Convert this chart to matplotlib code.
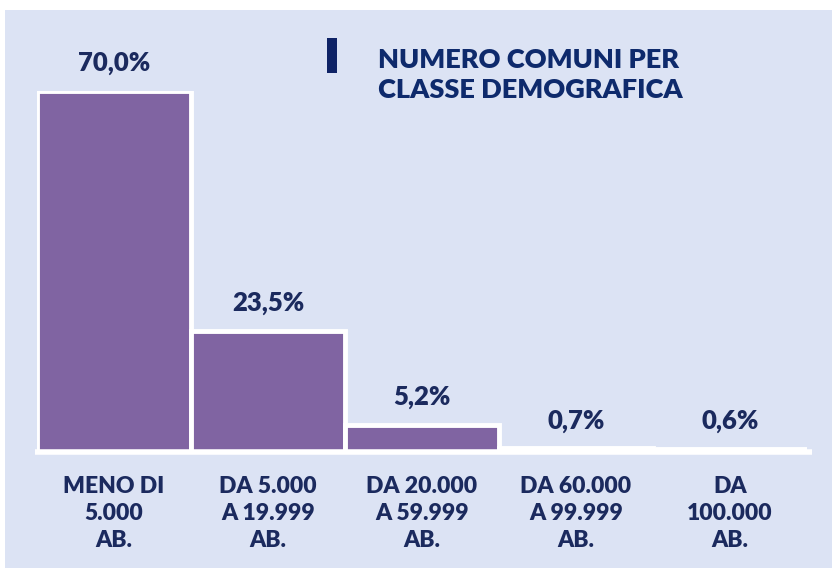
import matplotlib.pyplot as plt
from matplotlib.patches import Rectangle

categories = ['MENO DI\n5.000\nAB.', 'DA 5.000\nA 19.999\nAB.', 'DA 20.000\nA 59.999\nAB.',
              'DA 60.000\nA 99.999\nAB.', 'DA\n100.000\nAB.']
values = [70.0, 23.5, 5.2, 0.7, 0.6]
value_labels = ['70,0%', '23,5%', '5,2%', '0,7%', '0,6%']
title = 'NUMERO COMUNI PER\nCLASSE DEMOGRAFICA'

panel = '#DCE3F4'
purple = '#8064A2'
navy = '#1B2A5E'
title_col = '#0E2A6C'

plt.rcParams['font.family'] = ['Lato', 'DejaVu Sans']

fig = plt.figure(figsize=(8.32, 5.68), dpi=100)
fig.patch.set_facecolor('white')
fig.patches.append(Rectangle((5 / 832, 0), 1, 1 - 10 / 568, transform=fig.transFigure,
                             facecolor=panel, edgecolor='none', zorder=-5))

ax = fig.add_axes([37 / 832, 1 - 452 / 568, 770 / 832, 361.5 / 568])
ax.set_facecolor('none')
x = range(len(values))
ax.bar(x, values, width=1.0, color=purple, edgecolor='white', linewidth=3.5, zorder=2)
ax.set_xlim(-0.5, len(values) - 0.5)
ax.set_ylim(0, 70)
ax.plot([-0.51, 4.53], [0, 0], color='white', linewidth=4, zorder=3, clip_on=False,
        solid_capstyle='butt')

for i, (v, lab) in enumerate(zip(values, value_labels)):
    ax.annotate(lab, (i, v), xytext=(0, 20), textcoords='offset points',
                ha='center', va='center', fontsize=18.5, fontweight='heavy', color=navy,
                annotation_clip=False)

for s in ax.spines.values():
    s.set_visible(False)
ax.set_yticks([])
ax.set_xticks(list(x))
ax.set_xticklabels(categories, fontsize=16.5, fontweight='heavy', color=navy, linespacing=1.35)
ax.tick_params(axis='x', length=0, pad=17)

# title with marker bar
fig.patches.append(Rectangle((327 / 832, 1 - 73 / 568), 10 / 832, 35 / 568,
                             transform=fig.transFigure, facecolor='#0F2366',
                             edgecolor='none', zorder=3))
fig.text(378 / 832, 1 - 75 / 568, title, ha='left', va='center', fontsize=19.5,
         fontweight='heavy', color=title_col, linespacing=1.28)

fig.savefig('out.png', dpi=100, facecolor=fig.get_facecolor())
